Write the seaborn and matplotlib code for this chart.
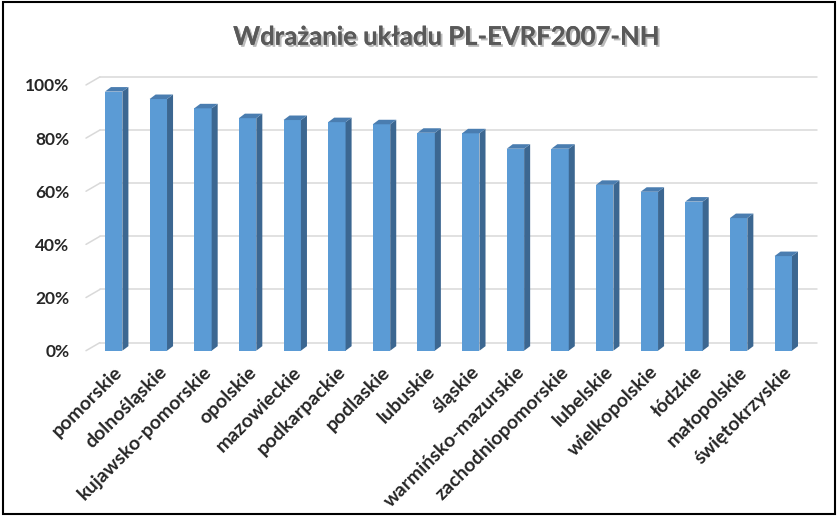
import numpy as np
import pandas as pd
import matplotlib as mpl
mpl.use('Agg')
import matplotlib.pyplot as plt
import matplotlib.patches as ptch
import matplotlib.patheffects as pe
from matplotlib.ticker import PercentFormatter
import seaborn as sns

# dane
wojewodztwa = ['pomorskie', 'dolnośląskie', 'kujawsko-pomorskie', 'opolskie',
               'mazowieckie', 'podkarpackie', 'podlaskie', 'lubuskie', 'śląskie',
               'warmińsko-mazurskie', 'zachodniopomorskie', 'lubelskie',
               'wielkopolskie', 'łódzkie', 'małopolskie', 'świętokrzyskie']
wdrozenie = [0.975, 0.947, 0.912, 0.875, 0.868, 0.860, 0.852, 0.820, 0.818,
             0.760, 0.760, 0.624, 0.598, 0.561, 0.499, 0.356]
y_ticks = [0, 0.2, 0.4, 0.6, 0.8, 1.0]

sns.set_style('white')
plt.rcParams['font.family'] = ['Lato', 'DejaVu Sans']

df = pd.DataFrame({'woj': wojewodztwa, 'proc': wdrozenie})

fig = plt.figure(figsize=(8.39, 5.18), dpi=100)
ax = fig.add_axes([0.1025, 0.323, 0.855, 0.513])

FRONT = '#5B9BD5'
SIDE = '#3C6791'
TOP = '#4A7DB0'

sns.barplot(data=df, x='woj', y='proc', color=FRONT, saturation=1,
            width=0.39, ax=ax, zorder=3)

# efekt 3D: boki i wierzch słupków
dx, dy = 0.135, 0.017
for p in list(ax.patches):
    x, w, h = p.get_x(), p.get_width(), p.get_height()
    p.set_edgecolor('none')
    side = ptch.Polygon([(x + w, 0), (x + w + dx, dy), (x + w + dx, h + dy), (x + w, h)],
                        closed=True, facecolor=SIDE, edgecolor='none', zorder=3)
    top = ptch.Polygon([(x, h), (x + dx, h + dy), (x + w + dx, h + dy), (x + w, h)],
                       closed=True, facecolor=TOP, edgecolor='none', zorder=3)
    ax.add_patch(side)
    ax.add_patch(top)

ax.set_xlim(-0.62, 15.45)
ax.set_ylim(0, 1)
ax.set_yticks(y_ticks)
ax.yaxis.set_major_formatter(PercentFormatter(1.0, decimals=0))

# siatka na tylnej ścianie
shift = mpl.transforms.ScaledTranslation(10 / 72, 5.8 / 72, fig.dpi_scale_trans)
for yv in y_ticks:
    ax.plot([0, 1], [yv, yv], color='#D9D9D9', lw=1.1,
            transform=ax.get_yaxis_transform() + shift, clip_on=False, zorder=1)
    ax.annotate('', xy=(0, yv), xycoords=ax.get_yaxis_transform(),
                xytext=(10, 5.8), textcoords='offset points',
                arrowprops=dict(arrowstyle='-', color='#D9D9D9', lw=1.1,
                                shrinkA=0, shrinkB=0), zorder=1)

for s in ax.spines.values():
    s.set_visible(False)
ax.set_xlabel('')
ax.set_ylabel('')
ax.tick_params(axis='y', length=0, pad=12, labelsize=12.5)
ax.tick_params(axis='x', length=0, pad=9)
for t in ax.get_yticklabels():
    t.set_fontweight('bold')
ax.set_xticks(range(len(wojewodztwa)))
ax.set_xticklabels(wojewodztwa, rotation=45, ha='right', rotation_mode='anchor',
                   fontsize=14, fontweight='bold')

fig.text(0.533, 0.929, 'Wdrażanie układu PL-EVRF2007-NH', ha='center', va='center',
         fontsize=18.5, fontweight='bold', color='#595959',
         path_effects=[pe.withSimplePatchShadow(offset=(1.5, -1.5),
                                                shadow_rgbFace='#AAAAAA', alpha=0.8),
                       pe.Normal()])

fig.patches.append(ptch.Rectangle((0.003, 0.008), 0.992, 0.988, transform=fig.transFigure,
                                  fill=False, edgecolor='black', lw=1.5))

fig.savefig('out.png', dpi=100)
